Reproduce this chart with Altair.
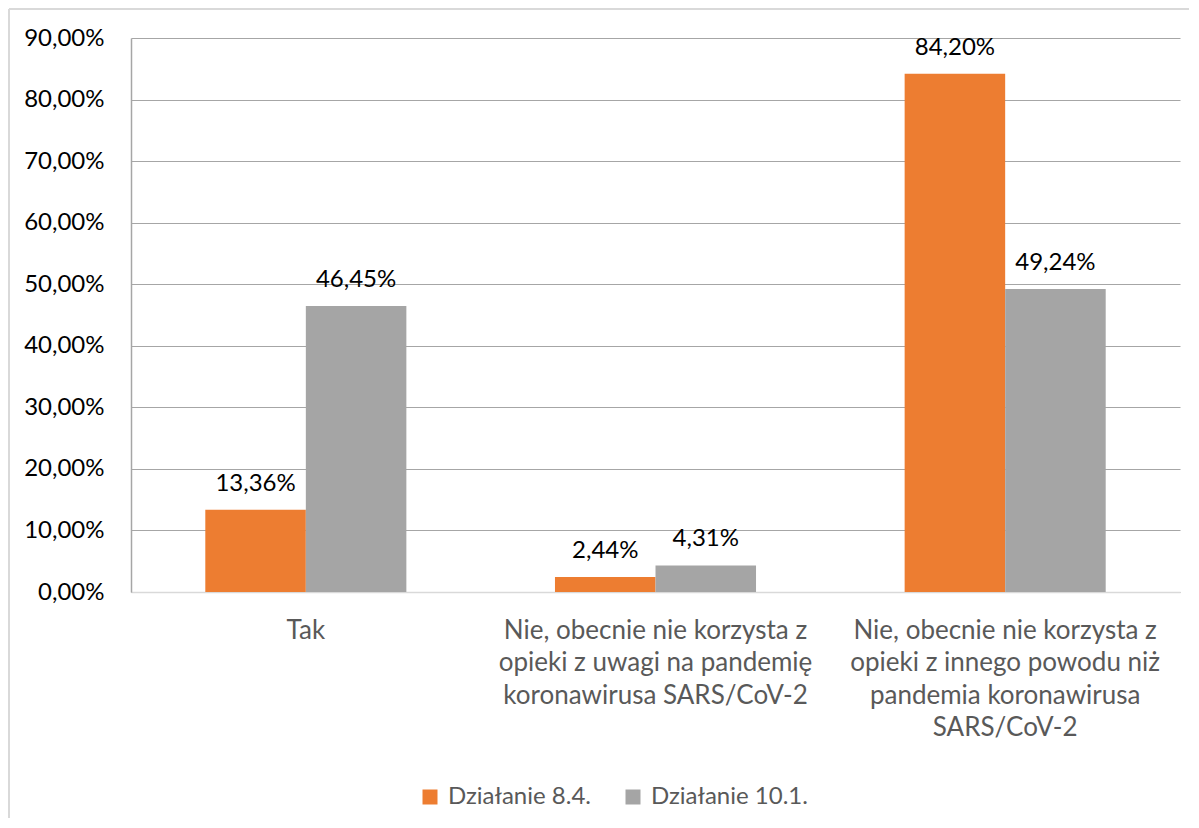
import altair as alt
import pandas as pd

categories = [
    "Tak",
    "Nie, obecnie nie korzysta z\nopieki z uwagi na pandemię\nkoronawirusa SARS/CoV-2",
    "Nie, obecnie nie korzysta z\nopieki z innego powodu niż\npandemia koronawirusa\nSARS/CoV-2",
]
series = ["Działanie 8.4.", "Działanie 10.1."]
values_84 = [13.36, 2.44, 84.20]
values_101 = [46.45, 4.31, 49.24]
colors = ["#ED7D31", "#A5A5A5"]
y_ticks = [0, 10, 20, 30, 40, 50, 60, 70, 80, 90]

rows = []
for i, c in enumerate(categories):
    rows.append({"cat": c, "series": series[0], "value": values_84[i]})
    rows.append({"cat": c, "series": series[1], "value": values_101[i]})
df = pd.DataFrame(rows)

FONT = "Lato"

x_enc = alt.X(
    "cat:N",
    sort=categories,
    scale=alt.Scale(paddingInner=0.425, paddingOuter=0.2125),
    axis=alt.Axis(
        title=None,
        labelAngle=0,
        labelExpr="split(datum.label, '\\n')",
        labelFont=FONT,
        labelFontSize=26,
        labelColor="#595959",
        labelLineHeight=32.5,
        labelPadding=25,
        labelBaseline="top",
        ticks=False,
        domainColor="#D9D9D9",
        domainWidth=1.5,
        grid=False,
        labelLimit=400,
    ),
)
xoff = alt.XOffset("series:N", sort=series, scale=alt.Scale(paddingInner=0, paddingOuter=0))
y_enc = alt.Y(
    "value:Q",
    scale=alt.Scale(domain=[0, 90], nice=False),
    axis=alt.Axis(
        title=None,
        values=y_ticks,
        labelExpr="replace(format(datum.value, '.2f'), '.', ',') + '%'",
        labelFont=FONT,
        labelFontSize=24,
        labelColor="#000000",
        labelPadding=27,
        ticks=False,
        domainColor="#A6A6A6",
        domainWidth=1.5,
        gridColor="#A6A6A6",
        gridWidth=1.2,
    ),
)

bars = alt.Chart(df).mark_bar().encode(
    x=x_enc,
    xOffset=xoff,
    y=y_enc,
    color=alt.Color(
        "series:N",
        sort=series,
        scale=alt.Scale(domain=series, range=colors),
        legend=alt.Legend(
            title=None,
            orient="none",
            legendX=287,
            legendY=747,
            direction="horizontal",
            symbolType="square",
            symbolSize=225,
            symbolStrokeWidth=0,
            labelFont=FONT,
            labelFontSize=24,
            labelColor="#595959",
            columnPadding=30,
            labelOffset=6,
            labelLimit=300,
        ),
    ),
)

labels = alt.Chart(df).transform_calculate(
    txt="replace(format(datum.value, '.2f'), '.', ',') + '%'"
).mark_text(baseline="bottom", dy=-14, font=FONT, fontSize=24, color="#000000").encode(
    x=alt.X("cat:N", sort=categories),
    xOffset=alt.XOffset("series:N", sort=series),
    y=alt.Y("value:Q"),
    text="txt:N",
)

border_left = alt.Chart(pd.DataFrame({"a": [0]})).mark_rule(color="#D9D9D9", strokeWidth=2).encode(
    x=alt.value(-122), y=alt.value(-29), y2=alt.value(780)
)
border_top = alt.Chart(pd.DataFrame({"a": [0]})).mark_rule(color="#D9D9D9", strokeWidth=2).encode(
    x=alt.value(-122), x2=alt.value(1058), y=alt.value(-29)
)

chart = alt.layer(border_left, border_top, bars, labels).properties(
    width=1049, height=554, padding=0
).configure_view(stroke=None).configure_legend(labelFontSize=24, labelFont=FONT)

chart.save("out.html", embed_options={"renderer": "svg", "actions": False})
